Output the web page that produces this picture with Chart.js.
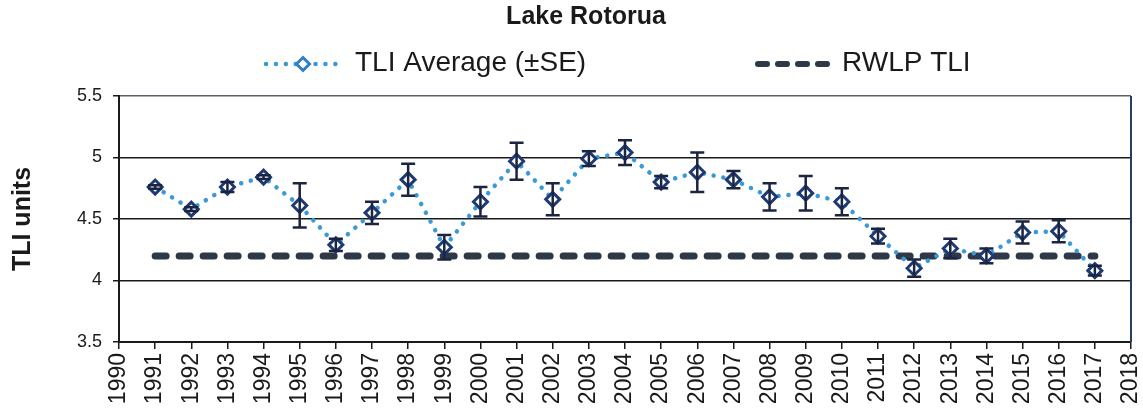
<!DOCTYPE html>
<html>
<head>
<meta charset="utf-8">
<title>Lake Rotorua TLI</title>
<script src="https://cdn.jsdelivr.net/npm/chart.js@4/dist/chart.umd.min.js"></script>
<style>
  html, body { margin: 0; padding: 0; background: #ffffff; }
  #wrap { position: relative; width: 1143px; height: 419px; }
</style>
</head>
<body>
<div id="wrap"><canvas id="chart"></canvas></div>
<script>
// Monitoring years
const years = [1991, 1992, 1993, 1994, 1995, 1996, 1997, 1998, 1999, 2000,
               2001, 2002, 2003, 2004, 2005, 2006, 2007, 2008, 2009, 2010,
               2011, 2012, 2013, 2014, 2015, 2016, 2017];

// Annual TLI average
const tliAverage = [4.76, 4.58, 4.76, 4.84, 4.61, 4.29, 4.55, 4.82, 4.27, 4.64,
                    4.97, 4.66, 4.99, 5.04, 4.80, 4.88, 4.82, 4.68, 4.71, 4.64,
                    4.36, 4.10, 4.26, 4.20, 4.39, 4.40, 4.08];

// Standard error of each annual average
const tliSE = [0.015, 0.015, 0.04, 0.015, 0.18, 0.05, 0.09, 0.13, 0.10, 0.12,
               0.15, 0.13, 0.06, 0.10, 0.05, 0.16, 0.07, 0.11, 0.14, 0.11,
               0.06, 0.07, 0.08, 0.06, 0.09, 0.09, 0.04];

// Regional Water and Land Plan target TLI
const rwlpTLI = [4.2, 4.2, 4.2, 4.2, 4.2, 4.2, 4.2, 4.2, 4.2, 4.2,
                 4.2, 4.2, 4.2, 4.2, 4.2, 4.2, 4.2, 4.2, 4.2, 4.2,
                 4.2, 4.2, 4.2, 4.2, 4.2, 4.2, 4.2];

// Axis ranges and labels
const xRange = [1990, 2018];
const yRange = [3.5, 5.5];
const yStep = 0.5;
const titleText = 'Lake Rotorua';
const legendLabels = ['TLI Average (\u00B1SE)', 'RWLP TLI'];
const yAxisTitle = 'TLI units';

const FONT = '"Liberation Sans", Arial, Helvetica, sans-serif';
const TEXT = '#1a1a1a';
const AXIS = '#1a1a1a';
const DOT_BLUE = '#3a9ad8';
const MARKER_NAVY = '#1e3a70';
const LEGEND_BLUE = '#2f80c4';
const BAR_COLOR = '#1b2440';
const RWLP_COLOR = '#2e3847';

// Title, legend, error bars and frame drawn onto the chart canvas
const decorations = {
  id: 'decorations',
  afterDatasetsDraw(chart) {
    const { ctx, scales: { x, y } } = chart;
    ctx.save();
    ctx.strokeStyle = BAR_COLOR;
    ctx.lineWidth = 2.5;
    ctx.lineCap = 'butt';
    const cap = 7;
    years.forEach((yr, i) => {
      const px = x.getPixelForValue(yr);
      const top = y.getPixelForValue(tliAverage[i] + tliSE[i]);
      const bot = y.getPixelForValue(tliAverage[i] - tliSE[i]);
      ctx.beginPath();
      ctx.moveTo(px, top); ctx.lineTo(px, bot);
      ctx.moveTo(px - cap, top); ctx.lineTo(px + cap, top);
      ctx.moveTo(px - cap, bot); ctx.lineTo(px + cap, bot);
      ctx.stroke();
    });
    ctx.restore();
  },
  afterDraw(chart) {
    const { ctx, chartArea } = chart;
    ctx.save();

    // right-hand frame line
    ctx.strokeStyle = '#2b3d5c';
    ctx.lineWidth = 2;
    ctx.beginPath();
    ctx.moveTo(chartArea.right, chartArea.top);
    ctx.lineTo(chartArea.right, chartArea.bottom);
    ctx.stroke();

    // title
    ctx.fillStyle = TEXT;
    ctx.font = 'bold 25px ' + FONT;
    ctx.textAlign = 'center';
    ctx.textBaseline = 'middle';
    ctx.fillText(titleText, 586, 17);

    // legend: dotted line with diamond
    const ly = 64;
    ctx.strokeStyle = DOT_BLUE;
    ctx.lineWidth = 4.5;
    ctx.lineCap = 'round';
    ctx.setLineDash([0.1, 9.8]);
    ctx.beginPath();
    ctx.moveTo(266, ly); ctx.lineTo(339, ly);
    ctx.stroke();
    ctx.setLineDash([]);
    ctx.fillStyle = '#ffffff';
    ctx.strokeStyle = LEGEND_BLUE;
    ctx.lineWidth = 3;
    ctx.lineCap = 'butt';
    const dx = 303, r = 6.5;
    ctx.beginPath();
    ctx.moveTo(dx, ly - r); ctx.lineTo(dx + r, ly); ctx.lineTo(dx, ly + r); ctx.lineTo(dx - r, ly);
    ctx.closePath();
    ctx.fill(); ctx.stroke();

    // legend: dashed line
    ctx.strokeStyle = RWLP_COLOR;
    ctx.lineWidth = 6;
    ctx.lineCap = 'round';
    ctx.setLineDash([9, 11]);
    ctx.beginPath();
    ctx.moveTo(758, ly); ctx.lineTo(838, ly);
    ctx.stroke();
    ctx.setLineDash([]);

    ctx.fillStyle = TEXT;
    ctx.font = '28px ' + FONT;
    ctx.textAlign = 'left';
    ctx.textBaseline = 'middle';
    ctx.fillText(legendLabels[0], 355, 63);
    ctx.fillText(legendLabels[1], 842, 63);
    ctx.restore();
  }
};

new Chart(document.getElementById('chart'), {
  type: 'line',
  data: {
    datasets: [
      {
        label: legendLabels[0],
        data: years.map((yr, i) => ({ x: yr, y: tliAverage[i] })),
        borderColor: DOT_BLUE,
        borderWidth: 4.5,
        borderDash: [0.1, 9.8],
        borderCapStyle: 'round',
        tension: 0,
        pointStyle: 'rectRot',
        pointRadius: 7,
        pointBorderWidth: 3,
        pointBorderColor: MARKER_NAVY,
        pointBackgroundColor: '#ffffff',
        fill: false
      },
      {
        label: legendLabels[1],
        data: years.map((yr, i) => ({ x: yr, y: rwlpTLI[i] })),
        borderColor: RWLP_COLOR,
        borderWidth: 7,
        borderDash: [11, 13],
        borderCapStyle: 'round',
        pointRadius: 0,
        tension: 0,
        fill: false
      }
    ]
  },
  options: {
    responsive: true,
    maintainAspectRatio: false,
    animation: false,
    layout: { padding: { top: 96, right: 12, left: 0, bottom: 0 } },
    plugins: {
      legend: { display: false },
      title: { display: false },
      tooltip: { enabled: false }
    },
    scales: {
      x: {
        type: 'linear',
        min: xRange[0],
        max: xRange[1],
        afterFit(scale) {
          scale.height = 77;
          scale.paddingLeft = 0;
          scale.paddingRight = 0;
        },
        ticks: {
          stepSize: 1,
          autoSkip: false,
          maxRotation: 90,
          minRotation: 90,
          padding: 4,
          color: TEXT,
          font: { family: FONT, size: 23 },
          callback: (v) => String(v)
        },
        grid: {
          drawOnChartArea: false,
          drawTicks: true,
          tickLength: 7,
          color: AXIS,
          lineWidth: 1.5
        },
        border: { display: true, color: AXIS, width: 2 }
      },
      y: {
        min: yRange[0],
        max: yRange[1],
        afterFit(scale) {
          scale.width = 119;
        },
        ticks: {
          stepSize: yStep,
          padding: 11,
          color: TEXT,
          font: { family: FONT, size: 18 },
          callback: (v) => String(v)
        },
        grid: {
          drawOnChartArea: true,
          drawTicks: true,
          tickLength: 6,
          color: (c) => (c.tick && c.tick.value === yRange[1] ? '#5a6070' : AXIS),
          tickColor: AXIS,
          lineWidth: 1.5
        },
        border: { display: true, color: AXIS, width: 2 },
        title: {
          display: true,
          text: yAxisTitle,
          color: TEXT,
          font: { family: FONT, size: 25, weight: 'bold' },
          padding: { top: 8, bottom: 0 }
        }
      }
    }
  },
  plugins: [decorations]
});
</script>
</body>
</html>
